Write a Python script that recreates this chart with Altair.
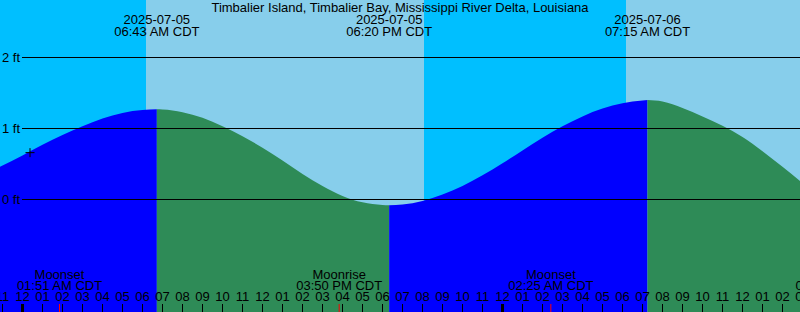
import altair as alt
import pandas as pd

TITLE = "Timbalier Island, Timbalier Bay, Mississippi River Delta, Louisiana"

# hours since 2025-07-05 00:00 CDT
X_DOMAIN = [-1.125, 38.875]
Y_DOMAIN = [-1.5845, 2.8099]

# tide curve (hours, feet)
tide_hours = [-1.125, 0, 1, 2, 3, 4, 5, 6, 6.717,
              7, 8, 9, 10, 11, 12, 13, 14, 15, 16, 17, 18, 18.333,
              19, 20, 21, 22, 23, 24, 25, 26, 27, 28, 29, 30, 31, 31.25,
              32, 33, 34, 35, 36, 37, 38, 38.875]
tide_ft = [0.46, 0.62, 0.77, 0.91, 1.03, 1.14, 1.22, 1.26, 1.27,
           1.268, 1.23, 1.15, 1.03, 0.89, 0.73, 0.55, 0.36, 0.19, 0.05, -0.04, -0.077, -0.08,
           -0.07, -0.02, 0.07, 0.19, 0.34, 0.51, 0.69, 0.87, 1.03, 1.17, 1.28, 1.355, 1.395, 1.40,
           1.38, 1.29, 1.17, 1.04, 0.88, 0.68, 0.46, 0.26]
extreme_idx = [8, 21, 35]
phases = ["rising", "falling", "rising", "falling"]

# day / night
sun_start = [-1.125, 6.175, 20.075, 30.175]
sun_end = [6.175, 20.075, 30.175, 38.875]
sun_kind = ["night", "day", "night", "day"]

# tide events
tide_ev_hours = [6.717, 18.333, 31.25]
tide_ev_dates = ["2025-07-05", "2025-07-05", "2025-07-06"]
tide_ev_times = ["06:43 AM CDT", "06:20 PM CDT", "07:15 AM CDT"]

# moon events
moon_hours = [1.85, 15.833, 26.417, 40.8]
moon_names = ["Moonset", "Moonrise", "Moonset", "Moonrise"]
moon_times = ["01:51 AM CDT", "03:50 PM CDT", "02:25 AM CDT", "04:48 PM CDT"]

# gridlines
grid_ft = [0, 1, 2]
grid_labels = ["0 ft", "1 ft", "2 ft"]

# hour ticks
hour_ticks = list(range(-1, 40))
hour_labels = ["11", "12", "01", "02", "03", "04", "05", "06", "07", "08", "09", "10", "11",
               "12", "01", "02", "03", "04", "05", "06", "07", "08", "09", "10", "11",
               "12", "01", "02", "03", "04", "05", "06", "07", "08", "09", "10", "11",
               "12", "01", "02", "03"]
midnights = [0, 24]

# "now" marker
now_hour = [0.375]
now_ft = [0.66]

FONT = "Liberation Sans"
FS = 13

xs = alt.Scale(domain=X_DOMAIN, nice=False, zero=False)
ys = alt.Scale(domain=Y_DOMAIN, nice=False, zero=False)

# build tide table
bounds = [0] + extreme_idx + [len(tide_hours) - 1]
rows = []
for s in range(len(phases)):
    for i in range(bounds[s], bounds[s + 1] + 1):
        rows.append({"h": tide_hours[i], "ft": tide_ft[i], "seg": s, "phase": phases[s]})
tide_df = pd.DataFrame(rows)

sun_df = pd.DataFrame({"h": sun_start, "h2": sun_end, "kind": sun_kind})
bg = alt.Chart(sun_df).mark_rect().encode(
    x=alt.X("h:Q", scale=xs, axis=None),
    x2="h2:Q",
    y=alt.value(0),
    y2=alt.value(312),
    color=alt.Color("kind:N", scale=alt.Scale(domain=["night", "day"], range=["#00BFFF", "#87CEEB"]), legend=None),
)

area = alt.Chart(tide_df).mark_area(interpolate="monotone").encode(
    x=alt.X("h:Q", scale=xs, axis=None),
    y=alt.Y("ft:Q", scale=ys, axis=None, stack=None),
    y2=alt.value(312),
    fill=alt.Fill("phase:N", scale=alt.Scale(domain=["rising", "falling"], range=["#0000FF", "#2E8B57"]), legend=None),
    detail="seg:N",
)

grid_df = pd.DataFrame({"ft": grid_ft, "label": grid_labels})
grid = alt.Chart(grid_df).mark_rule(color="black", strokeWidth=1).encode(
    x=alt.value(22), x2=alt.value(800),
    y=alt.Y("ft:Q", scale=ys, axis=None),
)
grid_text = alt.Chart(grid_df).mark_text(align="left", baseline="middle", font=FONT, fontSize=FS, color="black").encode(
    x=alt.value(2),
    y=alt.Y("ft:Q", scale=ys, axis=None),
    text="label:N",
)

title_df = pd.DataFrame({"t": [TITLE]})
title = alt.Chart(title_df).mark_text(align="center", baseline="alphabetic", font=FONT, fontSize=FS, color="black").encode(
    x=alt.value(400), y=alt.value(11.5), text="t:N")

tev_df = pd.DataFrame({"h": tide_ev_hours, "d": tide_ev_dates, "t": tide_ev_times})
tev_date = alt.Chart(tev_df).mark_text(align="center", baseline="alphabetic", font=FONT, fontSize=FS, color="black").encode(
    x=alt.X("h:Q", scale=xs, axis=None), y=alt.value(24), text="d:N")
tev_time = alt.Chart(tev_df).mark_text(align="center", baseline="alphabetic", font=FONT, fontSize=FS, color="black").encode(
    x=alt.X("h:Q", scale=xs, axis=None), y=alt.value(36), text="t:N")

moon_df = pd.DataFrame({"h": moon_hours, "n": moon_names, "t": moon_times})
moon_name = alt.Chart(moon_df).mark_text(align="center", baseline="alphabetic", font=FONT, fontSize=FS, color="black").encode(
    x=alt.X("h:Q", scale=xs, axis=None), y=alt.value(278.5), text="n:N")
moon_time = alt.Chart(moon_df).mark_text(align="center", baseline="alphabetic", font=FONT, fontSize=FS, color="black").encode(
    x=alt.X("h:Q", scale=xs, axis=None), y=alt.value(290), text="t:N")

hours_df = pd.DataFrame({"h": hour_ticks, "l": hour_labels})
hour_text = alt.Chart(hours_df).mark_text(align="center", baseline="alphabetic", font=FONT, fontSize=FS, color="black").encode(
    x=alt.X("h:Q", scale=xs, axis=None), y=alt.value(301), text="l:N")
hour_tick = alt.Chart(hours_df).mark_rule(color="black", strokeWidth=1).encode(
    x=alt.X("h:Q", scale=xs, axis=None), y=alt.value(304), y2=alt.value(312))

mid_df = pd.DataFrame({"h": midnights})
mid_tick = alt.Chart(mid_df).mark_rule(color="black", strokeWidth=3).encode(
    x=alt.X("h:Q", scale=xs, axis=None), y=alt.value(304), y2=alt.value(312))

moon_tick = alt.Chart(moon_df).mark_rule(color="red", strokeWidth=1).encode(
    x=alt.X("h:Q", scale=xs, axis=None), y=alt.value(304), y2=alt.value(312))

now_df = pd.DataFrame({"h": now_hour, "ft": now_ft})
now_mark = alt.Chart(now_df).mark_point(shape="M-1,0H1M0,-1V1", size=81, filled=False, color="black", strokeWidth=1, opacity=1).encode(
    x=alt.X("h:Q", scale=xs, axis=None), y=alt.Y("ft:Q", scale=ys, axis=None))

chart = alt.layer(
    bg, area, grid, grid_text, title, tev_date, tev_time,
    moon_name, moon_time, hour_text, hour_tick, mid_tick, moon_tick, now_mark
).properties(
    width=800, height=312, padding=0,
    autosize=alt.AutoSizeParams(type="none"),
).configure_view(stroke=None).resolve_scale(color="independent", fill="independent")

chart.save("out.html", embed_options={"renderer": "svg", "actions": False})
